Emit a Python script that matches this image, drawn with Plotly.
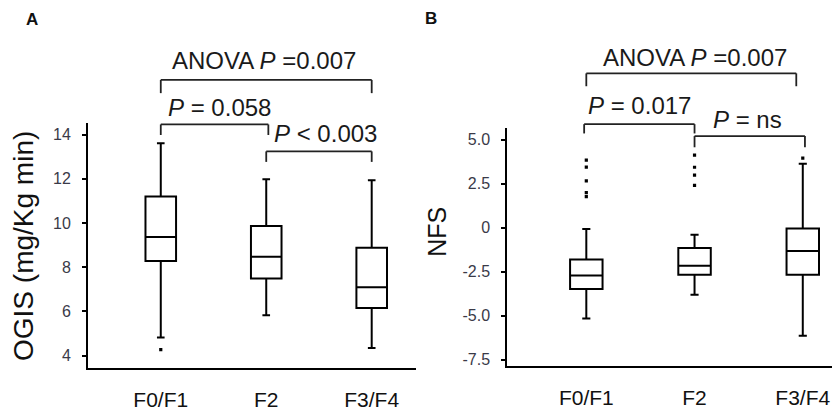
import plotly.graph_objects as go

# ---------------- data ----------------
categories = ["F0/F1", "F2", "F3/F4"]
cat_pos = [0, 1, 2]

# Panel A: OGIS (mg/Kg min)
ogis_q1 = [8.28, 7.49, 6.15]
ogis_median = [9.36, 8.47, 7.09]
ogis_q3 = [11.2, 9.86, 8.88]
ogis_low = [4.82, 5.82, 4.34]
ogis_high = [13.6, 11.98, 11.93]
ogis_out_x = [0]
ogis_out_y = [4.27]
ogis_ticks = [4, 6, 8, 10, 12, 14]

# Panel B: NFS
nfs_q1 = [-3.49, -2.67, -2.67]
nfs_median = [-2.72, -2.16, -1.32]
nfs_q3 = [-1.81, -1.15, -0.05]
nfs_low = [-5.16, -3.81, -6.15]
nfs_high = [-0.07, -0.4, 3.64]
nfs_out_x = [0, 0, 0, 0, 0, 1, 1, 1, 1, 2]
nfs_out_y = [3.85, 3.45, 2.67, 2.0, 1.77, 4.13, 3.44, 2.99, 2.41, 3.96]
nfs_ticks = [-7.5, -5.0, -2.5, 0, 2.5, 5.0]
nfs_ticktext = ["-7.5", "-5.0", "-2.5", "0", "2.5", "5.0"]

W, H = 832, 411
FONT = "Liberation Sans, Arial, sans-serif"

fig = go.Figure()

box_style = dict(fillcolor="white", line=dict(color="black", width=2),
                 whiskerwidth=0.25, boxpoints=False, hoverinfo="skip",
                 showlegend=False)

fig.add_trace(go.Box(x=cat_pos, q1=ogis_q1, median=ogis_median, q3=ogis_q3,
                     lowerfence=ogis_low, upperfence=ogis_high, width=0.29,
                     xaxis="x", yaxis="y", **box_style))
fig.add_trace(go.Scatter(x=ogis_out_x, y=ogis_out_y, mode="markers",
                         marker=dict(symbol="square", size=3.2, color="black"),
                         xaxis="x", yaxis="y", showlegend=False, hoverinfo="skip"))

fig.add_trace(go.Box(x=cat_pos, q1=nfs_q1, median=nfs_median, q3=nfs_q3,
                     lowerfence=nfs_low, upperfence=nfs_high, width=0.3,
                     xaxis="x2", yaxis="y2", **box_style))
fig.add_trace(go.Scatter(x=nfs_out_x, y=nfs_out_y, mode="markers",
                         marker=dict(symbol="square", size=3.2, color="black"),
                         xaxis="x2", yaxis="y2", showlegend=False, hoverinfo="skip"))

def px_x(p):
    return p / W

def px_y(p):
    return (H - p) / H

xaxis_common = dict(showline=True, linecolor="black", linewidth=2, ticks="",
                    tickvals=cat_pos, ticktext=categories, showgrid=False,
                    zeroline=False, tickfont=dict(family=FONT, size=21, color="#111"),
                    ticklabelstandoff=12, fixedrange=True)
yaxis_common = dict(showline=True, linecolor="black", linewidth=2, ticks="outside",
                    ticklen=4, tickwidth=2, tickcolor="black", showgrid=False,
                    zeroline=False, tickfont=dict(family=FONT, size=16, color="#3a3a48"),
                    ticklabelstandoff=8, fixedrange=True)

fig.update_layout(
    width=W, height=H, margin=dict(l=0, r=0, t=0, b=0),
    paper_bgcolor="white", plot_bgcolor="white", showlegend=False,
    xaxis=dict(domain=[px_x(88), px_x(416)], range=[-0.69, 2.42], anchor="y", **xaxis_common),
    yaxis=dict(domain=[px_y(372.7), px_y(125)], range=[3.43, 14.5], anchor="x",
               tickvals=ogis_ticks, **yaxis_common),
    xaxis2=dict(domain=[px_x(507.3), 1.0], range=[-0.73, 2.27], anchor="y2", **xaxis_common),
    yaxis2=dict(domain=[px_y(370.7), px_y(129.3)], range=[-7.88, 5.69], anchor="x2",
                tickvals=nfs_ticks, ticktext=nfs_ticktext, **yaxis_common),
)

# significance brackets: (xaxis, yaxis-domain, x0, x1, y_top, y_drop)
brackets = [
    ("x", "y domain", 0, 2, 1.178, 1.124),
    ("x", "y domain", 0, 1.02, 0.996, 0.953),
    ("x", "y domain", 1.0, 2.0, 0.886, 0.843),
    ("x2", "y2 domain", 0, 1.94, 1.228, 1.174),
    ("x2", "y2 domain", -0.02, 1.0, 1.015, 0.976),
    ("x2", "y2 domain", 1.0, 2.02, 0.965, 0.918),
]
shapes = []
lstyle = dict(color="#222", width=1.8)
for xr, yr, x0, x1, yt, yd in brackets:
    shapes.append(dict(type="line", xref=xr, yref=yr, x0=x0, x1=x1, y0=yt, y1=yt, line=lstyle))
    shapes.append(dict(type="line", xref=xr, yref=yr, x0=x0, x1=x0, y0=yd, y1=yt, line=lstyle))
    shapes.append(dict(type="line", xref=xr, yref=yr, x0=x1, x1=x1, y0=yd, y1=yt, line=lstyle))
fig.update_layout(shapes=shapes)

labels = [
    ("x", "y domain", 0.98, 1.258, "ANOVA <i>P</i> =0.007"),
    ("x", "y domain", 0.56, 1.065, "<i>P</i> = 0.058"),
    ("x", "y domain", 1.56, 0.96, "<i>P</i> &lt; 0.003"),
    ("x2", "y2 domain", 1.0, 1.295, "ANOVA <i>P</i> =0.007"),
    ("x2", "y2 domain", 0.49, 1.092, "<i>P</i> = 0.017"),
    ("x2", "y2 domain", 1.49, 1.035, "<i>P</i> = ns"),
]
annotations = []
for xr, yr, x, y, t in labels:
    annotations.append(dict(xref=xr, yref=yr, x=x, y=y, text=t, showarrow=False,
                            xanchor="center", yanchor="middle",
                            font=dict(family=FONT, size=24, color="#1a1a1a")))

# axis titles and panel letters
annotations.append(dict(xref="paper", yref="paper", x=px_x(24), y=px_y(249),
                        text="OGIS (mg/Kg min)", textangle=-90, showarrow=False,
                        xanchor="center", yanchor="middle",
                        font=dict(family=FONT, size=28, color="#111")))
annotations.append(dict(xref="paper", yref="paper", x=px_x(437), y=px_y(234.7),
                        text="NFS", textangle=-90, showarrow=False,
                        xanchor="center", yanchor="middle",
                        font=dict(family=FONT, size=25, color="#111")))
annotations.append(dict(xref="paper", yref="paper", x=px_x(32), y=px_y(20),
                        text="<b>A</b>", showarrow=False, xanchor="center", yanchor="middle",
                        font=dict(family=FONT, size=17, color="#111")))
annotations.append(dict(xref="paper", yref="paper", x=px_x(431), y=px_y(19),
                        text="<b>B</b>", showarrow=False, xanchor="center", yanchor="middle",
                        font=dict(family=FONT, size=17, color="#111")))
fig.update_layout(annotations=annotations)

fig.write_html("out.html", config={"displayModeBar": False},
               post_script="document.body.style.margin='0';document.body.style.overflow='hidden';")
